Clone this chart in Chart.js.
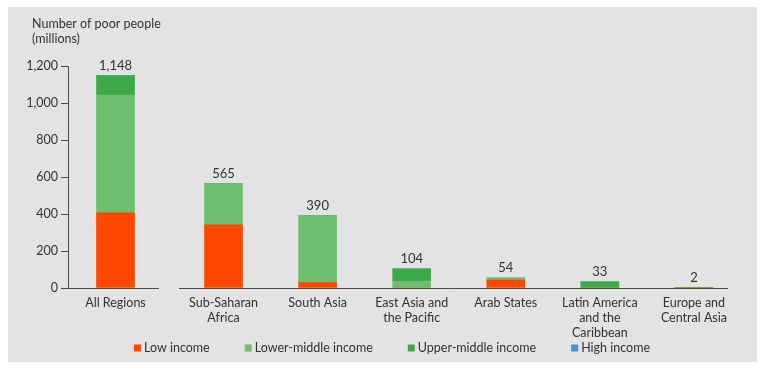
<!DOCTYPE html>
<html>
<head>
<meta charset="utf-8">
<script src="https://cdn.jsdelivr.net/npm/chart.js@4.4.1/dist/chart.umd.min.js"></script>
<style>
  html, body { margin: 0; padding: 0; background: #ffffff; }
  #wrap { position: relative; width: 763px; height: 367px; }
</style>
</head>
<body>
<div id="wrap"><canvas id="c"></canvas></div>
<script>
// ---- data ----
const categories = [
  ["All Regions"],
  ["Sub-Saharan", "Africa"],
  ["South Asia"],
  ["East Asia and", "the Pacific"],
  ["Arab States"],
  ["Latin America", "and the", "Caribbean"],
  ["Europe and", "Central Asia"]
];
const lowIncome         = [407, 341, 29, 0, 43, 0, 0];
const lowerMiddleIncome = [636, 224, 361, 38, 11, 2, 1];
const upperMiddleIncome = [105, 0, 0, 66, 0, 31, 1];
const highIncome        = [0, 0, 0, 0, 0, 0, 0];
const totals            = [1148, 565, 390, 104, 54, 33, 2];
const yTicks            = [0, 200, 400, 600, 800, 1000, 1200];
const seriesNames = ["Low income", "Lower-middle income", "Upper-middle income", "High income"];

// ---- layout (slot centres on the x scale; "All Regions" is set apart) ----
const slots = [0, 1.148, 2.148, 3.148, 4.148, 5.148, 6.148];
const colors = ["#fe4701", "#6dbe6e", "#3caa48", "#4a90e2"];
const textColor = "#333333";
const axisColor = "#4a4a4a";
const FONT = "Lato, 'Open Sans', sans-serif";

Chart.defaults.font.family = FONT;
Chart.defaults.font.size = 12.5;
Chart.defaults.color = textColor;

function pts(arr) { return arr.map((v, i) => ({ x: slots[i], y: v })); }

const panelPlugin = {
  id: "panel",
  beforeDraw(chart) {
    const ctx = chart.ctx;
    ctx.save();
    ctx.fillStyle = "#e3e3e3";
    ctx.fillRect(8, 7, 749, 355);
    ctx.restore();
  }
};

const decorPlugin = {
  id: "decor",
  afterDraw(chart) {
    const ctx = chart.ctx;
    const xs = chart.scales.x, ys = chart.scales.y;
    const area = chart.chartArea;
    ctx.save();
    // x axis line with a gap after "All Regions"
    ctx.strokeStyle = axisColor;
    ctx.lineWidth = 1;
    const yb = Math.round(ys.getPixelForValue(0)) + 0.5;
    ctx.beginPath();
    ctx.moveTo(area.left, yb);
    ctx.lineTo(xs.getPixelForValue(0.462), yb);
    ctx.moveTo(xs.getPixelForValue(0.675), yb);
    ctx.lineTo(area.right, yb);
    ctx.stroke();

    // total labels
    ctx.fillStyle = textColor;
    ctx.font = "13px " + FONT;
    ctx.textAlign = "center";
    ctx.textBaseline = "middle";
    totals.forEach((t, i) => {
      const x = xs.getPixelForValue(slots[i]);
      const y = ys.getPixelForValue(t) - 10;
      ctx.fillText(t.toLocaleString("en-US"), x, y);
    });

    // axis title
    ctx.textAlign = "left";
    ctx.font = "12.5px " + FONT;
    ctx.fillText("Number of poor people", 32, 24);
    ctx.fillText("(millions)", 32, 39);

    // legend
    ctx.font = "12.5px " + FONT;
    const boxW = 7, boxGap = 3, itemGap = 35;
    const widths = seriesNames.map(n => ctx.measureText(n).width);
    const total = widths.reduce((a, w) => a + boxW + boxGap + w, 0) + itemGap * (seriesNames.length - 1);
    let x = 392 - total / 2;
    const ly = 348;
    seriesNames.forEach((n, i) => {
      ctx.fillStyle = colors[i];
      ctx.fillRect(x, ly - 3.5, boxW, boxW);
      ctx.fillStyle = textColor;
      ctx.fillText(n, x + boxW + boxGap, ly);
      x += boxW + boxGap + widths[i] + itemGap;
    });
    ctx.restore();
  }
};

new Chart(document.getElementById("c"), {
  type: "bar",
  data: {
    datasets: [
      { label: seriesNames[0], data: pts(lowIncome), backgroundColor: colors[0] },
      { label: seriesNames[1], data: pts(lowerMiddleIncome), backgroundColor: colors[1] },
      { label: seriesNames[2], data: pts(upperMiddleIncome), backgroundColor: colors[2] },
      { label: seriesNames[3], data: pts(highIncome), backgroundColor: colors[3] }
    ]
  },
  options: {
    responsive: true,
    maintainAspectRatio: false,
    animation: false,
    layout: { padding: { left: 0, right: 35, top: 66, bottom: 0 } },
    datasets: { bar: { barThickness: 38, borderWidth: 0 } },
    plugins: {
      legend: { display: false },
      tooltip: { enabled: false }
    },
    scales: {
      x: {
        type: "linear",
        stacked: true,
        offset: false,
        min: -0.505,
        max: 6.51,
        afterFit(s) { s.height = 79; },
        afterBuildTicks(s) { s.ticks = slots.map(v => ({ value: v })); },
        grid: { display: false, drawTicks: false, offset: false },
        border: { display: false },
        ticks: {
          autoSkip: false,
          maxRotation: 0,
          padding: 7,
          color: textColor,
          callback(value, index) { return categories[index]; }
        }
      },
      y: {
        stacked: true,
        min: 0,
        max: 1200,
        afterFit(s) { s.width = 68; },
        afterBuildTicks(s) { s.ticks = yTicks.map(v => ({ value: v })); },
        grid: { drawOnChartArea: false, drawTicks: true, tickLength: 7, color: axisColor },
        border: { display: true, color: axisColor, width: 1 },
        ticks: {
          padding: 3,
          color: textColor,
          callback(v) { return v.toLocaleString("en-US"); }
        }
      }
    }
  },
  plugins: [panelPlugin, decorPlugin]
});
</script>
</body>
</html>
